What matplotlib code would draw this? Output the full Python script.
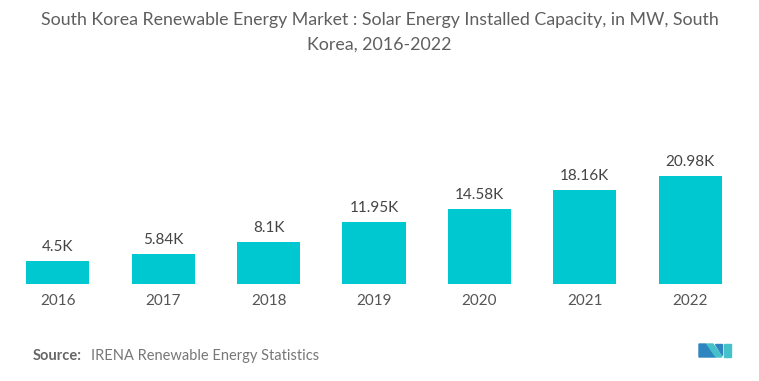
import matplotlib.pyplot as plt
from matplotlib.patches import Polygon

# chart data
years = ["2016", "2017", "2018", "2019", "2020", "2021", "2022"]
capacity_k = [4.5, 5.84, 8.1, 11.95, 14.58, 18.16, 20.98]
value_labels = ["4.5K", "5.84K", "8.1K", "11.95K", "14.58K", "18.16K", "20.98K"]

title = ("South Korea Renewable Energy Market : Solar Energy Installed Capacity, in MW, South\n"
         "Korea, 2016-2022")

plt.rcParams['font.family'] = ['Lato', 'DejaVu Sans']

fig = plt.figure(figsize=(7.59, 3.81), dpi=100)
W, H = 759, 381

# axes: bottom of bars at y=284px, 5.15 px per K
bottom_px = 284
ymax = 25
ax = fig.add_axes([5 / W, (H - bottom_px) / H, (743 - 5) / W, ymax * 5.15 / H])

x = range(len(years))
ax.bar(x, capacity_k, width=0.6, color="#00C8D0")
for i, (v, lab) in enumerate(zip(capacity_k, value_labels)):
    ax.text(i, v + 1.4, lab, ha="center", va="bottom", fontsize=11, color="#444444")

ax.set_xlim(-0.5, len(years) - 0.5)
ax.set_ylim(0, ymax)
ax.set_xticks(list(x))
ax.set_xticklabels(years, fontsize=11, color="#555555")
ax.tick_params(axis="x", length=0, pad=7)
ax.set_yticks([])
for s in ax.spines.values():
    s.set_visible(False)

fig.text(0.5, 1 - 12 / H, title, ha="center", va="top", fontsize=12.8,
         color="#5f5f5f", linespacing=1.7)

fig.text(33 / W, 1 - 356 / H, "Source:", ha="left", va="center", fontsize=10.5,
         color="#666666", fontweight="bold")
fig.text(91 / W, 1 - 356 / H, "IRENA Renewable Energy Statistics", ha="left", va="center",
         fontsize=10.5, color="#777777")

# logo
def px(pts):
    return [(a / W, 1 - b / H) for a, b in pts]

dark, teal = "#2E86C1", "#45C2C9"
fig.patches.append(Polygon(px([(699, 357), (699, 344), (706, 344), (716, 357)]),
                           closed=True, color=dark, transform=fig.transFigure))
fig.patches.append(Polygon(px([(707, 344), (713, 344), (722, 357), (716, 357)]),
                           closed=True, color=teal, transform=fig.transFigure))
fig.patches.append(Polygon(px([(715, 344), (722, 344), (722, 355)]),
                           closed=True, color=dark, transform=fig.transFigure))
fig.patches.append(Polygon(px([(724, 344), (731, 344), (731, 357), (724, 357)]),
                           closed=True, color=teal, transform=fig.transFigure))

fig.savefig("out.png", dpi=100)
